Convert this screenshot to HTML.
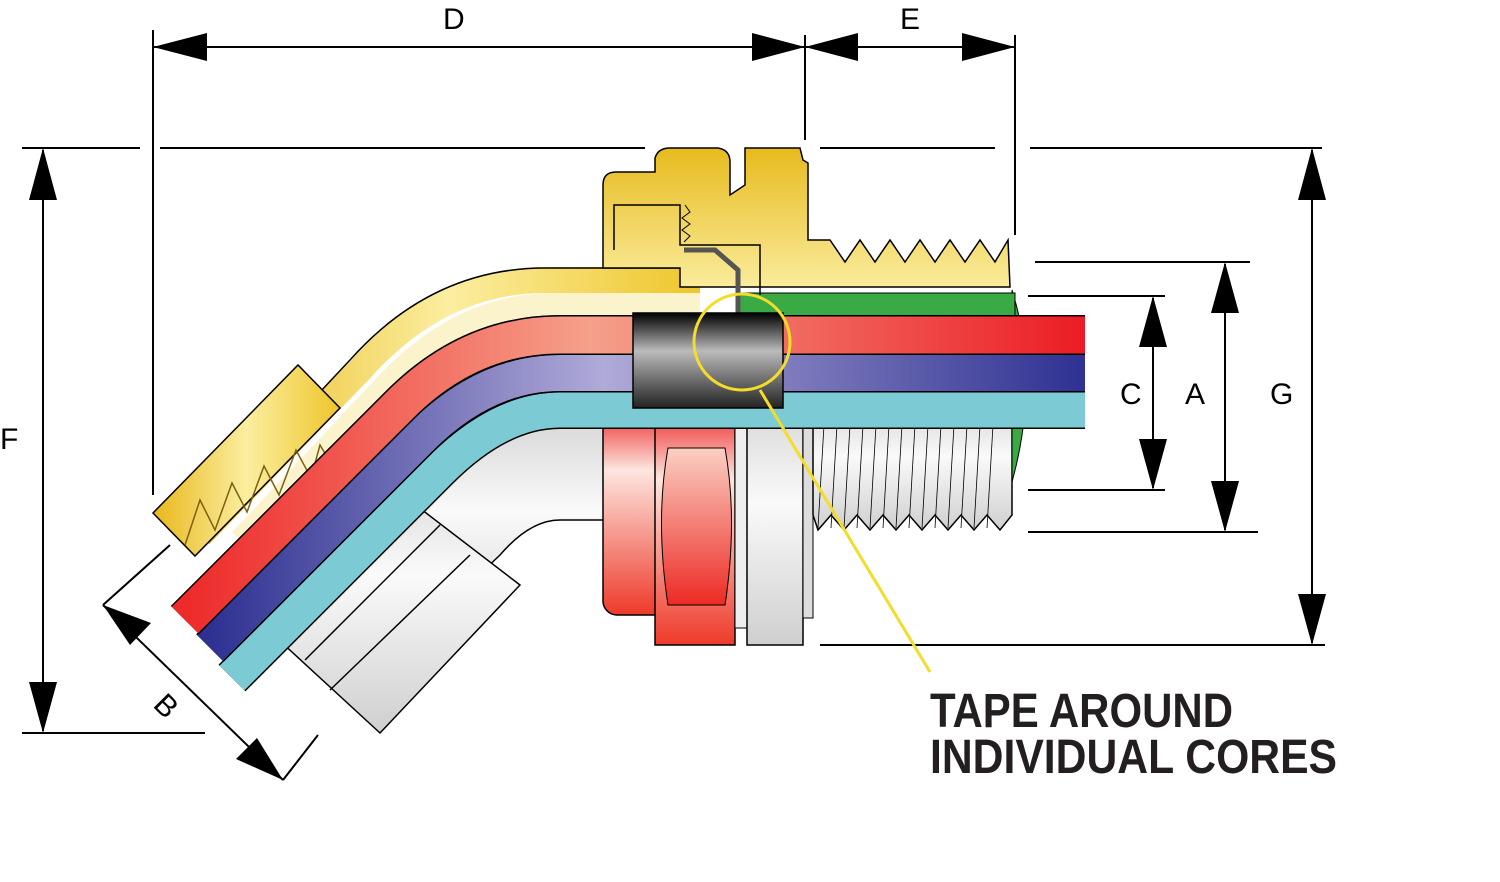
<!DOCTYPE html>
<html><head><meta charset="utf-8"><style>
html,body{margin:0;padding:0;background:#fff;width:1500px;height:882px;overflow:hidden}
svg{display:block}
</style></head><body>
<svg width="1500" height="882" viewBox="0 0 1500 882" xmlns="http://www.w3.org/2000/svg">
<defs>
<linearGradient id="gold" x1="0" y1="0" x2="1" y2="0">
<stop offset="0" stop-color="#e9b81c"/><stop offset="0.5" stop-color="#fbeea0"/><stop offset="1" stop-color="#eec52a"/></linearGradient>
<linearGradient id="goldv" x1="0" y1="0" x2="0" y2="1">
<stop offset="0" stop-color="#e6bb1e"/><stop offset="1" stop-color="#fbec9c"/></linearGradient>
<linearGradient id="red" x1="0" y1="0" x2="1" y2="0">
<stop offset="0" stop-color="#ee2a2a"/><stop offset="0.45" stop-color="#f5a08a"/><stop offset="1" stop-color="#ec1c24"/></linearGradient>
<linearGradient id="blue" x1="0" y1="0" x2="1" y2="0">
<stop offset="0" stop-color="#2e3192"/><stop offset="0.45" stop-color="#b0aad8"/><stop offset="1" stop-color="#2e3192"/></linearGradient>
<linearGradient id="tape" x1="0" y1="0" x2="0" y2="1">
<stop offset="0" stop-color="#000"/><stop offset="0.4" stop-color="#bbb"/><stop offset="1" stop-color="#222"/></linearGradient>
<linearGradient id="white" x1="0" y1="0" x2="0" y2="1">
<stop offset="0" stop-color="#d8d8d8"/><stop offset="0.4" stop-color="#fafafa"/><stop offset="1" stop-color="#cfcfcf"/></linearGradient>
<linearGradient id="redn" x1="0" y1="0" x2="0" y2="1">
<stop offset="0" stop-color="#ec2626"/><stop offset="0.3" stop-color="#fde6e0"/><stop offset="1" stop-color="#ee3a2a"/></linearGradient>
<linearGradient id="redh" x1="0" y1="0" x2="0" y2="1">
<stop offset="0" stop-color="#fbd0c4"/><stop offset="1" stop-color="#ec2a24"/></linearGradient>
</defs>

<g stroke="#000" stroke-width="2" fill="none">
<line x1="153" y1="30" x2="153" y2="495"/>
<line x1="805" y1="35" x2="805" y2="140"/>
<line x1="1015" y1="35" x2="1015" y2="235"/>
<line x1="153" y1="47" x2="1015" y2="47"/>
<line x1="22" y1="148" x2="140" y2="148"/>
<line x1="160" y1="148" x2="645" y2="148"/>
<line x1="820" y1="148" x2="995" y2="148"/>
<line x1="1030" y1="148" x2="1322" y2="148"/>
<line x1="22" y1="733" x2="205" y2="733"/>
<line x1="43" y1="150" x2="43" y2="731"/>
<line x1="1312" y1="150" x2="1312" y2="643"/>
<line x1="820" y1="645" x2="1325" y2="645"/>
<line x1="1035" y1="262" x2="1250" y2="262"/>
<line x1="1028" y1="532" x2="1258" y2="532"/>
<line x1="1225" y1="264" x2="1225" y2="530"/>
<line x1="1028" y1="296" x2="1165" y2="296"/>
<line x1="1028" y1="490" x2="1165" y2="490"/>
<line x1="1153" y1="298" x2="1153" y2="488"/>
<line x1="103" y1="605" x2="283" y2="780"/>
<line x1="103" y1="605" x2="170" y2="545"/>
<line x1="283" y1="780" x2="318" y2="735"/>
</g>
<g fill="#000">
<polygon points="153,47 207,33 207,61"/>
<polygon points="805,47 752,33 752,61"/>
<polygon points="805,47 858,33 858,61"/>
<polygon points="1015,47 962,33 962,61"/>
<polygon points="43,148 29,200 57,200"/>
<polygon points="43,733 29,682 57,682"/>
<polygon points="1312,148 1298,200 1326,200"/>
<polygon points="1312,645 1298,594 1326,594"/>
<polygon points="1225,262 1211,313 1239,313"/>
<polygon points="1225,532 1211,481 1239,481"/>
<polygon points="1153,296 1139,347 1167,347"/>
<polygon points="1153,490 1139,439 1167,439"/>
<polygon points="103,605 151,623 130,645"/>
<polygon points="283,780 236,759 257,738"/>
</g>
<g font-family="Liberation Sans, sans-serif" font-size="30" fill="#000">
<text x="443" y="29">D</text>
<text x="900" y="29">E</text>
<text x="0" y="449">F</text>
<text x="1120" y="404">C</text>
<text x="1185" y="404">A</text>
<text x="1270" y="404">G</text>
<text x="0" y="0" transform="translate(152,706) rotate(45)">B</text>
</g>

<path d="M560,420 L610,420 L610,520 L560,520 Q530,520 500,555 L400,650 L300,560 L440,440 Q480,420 560,420 Z" fill="url(#white)" stroke="#000" stroke-width="1.5"/>
<g stroke="#000" stroke-width="1.5" fill="url(#white)">
<polygon points="230,595 370,470 520,585 380,733"/>
<line x1="305" y1="660" x2="440" y2="525"/>
<line x1="330" y1="690" x2="470" y2="555"/>
</g>
<rect x="603" y="408" width="90" height="207" rx="14" fill="url(#redn)" stroke="#000" stroke-width="1.5"/>
<path d="M655,408 L735,408 L735,645 L655,645 Z" fill="url(#redn)" stroke="#000" stroke-width="1.5"/>
<path d="M668,448 L725,448 Q738,520 725,605 L668,605 Q655,520 668,448 Z" fill="url(#redh)" stroke="#000" stroke-width="1"/>
<rect x="735" y="408" width="12" height="220" fill="#eee" stroke="#000" stroke-width="1"/>
<rect x="747" y="408" width="56" height="237" fill="url(#white)" stroke="#000" stroke-width="1.5"/>
<rect x="803" y="408" width="10" height="210" fill="#ddd" stroke="#000" stroke-width="1"/>
<path d="M813,408 L1012,408 L1012,515 L1000,530 L987,515 L974,530 L961,515 L948,530 L935,515 L922,530 L909,515 L896,530 L883,515 L870,530 L857,515 L844,530 L831,515 L818,530 L813,515 Z" fill="url(#white)" stroke="#000" stroke-width="1.5"/>
<g stroke="#000" stroke-width="0.8">
<line x1="825" y1="408" x2="818" y2="528"/><line x1="838" y1="408" x2="831" y2="528"/><line x1="851" y1="408" x2="844" y2="528"/><line x1="864" y1="408" x2="857" y2="528"/><line x1="877" y1="408" x2="870" y2="528"/><line x1="890" y1="408" x2="883" y2="528"/><line x1="903" y1="408" x2="896" y2="528"/><line x1="916" y1="408" x2="909" y2="528"/><line x1="929" y1="408" x2="922" y2="528"/><line x1="942" y1="408" x2="935" y2="528"/><line x1="955" y1="408" x2="948" y2="528"/><line x1="968" y1="408" x2="961" y2="528"/><line x1="981" y1="408" x2="974" y2="528"/><line x1="994" y1="408" x2="987" y2="528"/>
</g>
<path d="M1012,290 Q1040,380 1012,482 L1012,290 Z" fill="#3aaa44" stroke="#000" stroke-width="1"/>
<rect x="740" y="293" width="275" height="24" fill="#3aaa44" stroke="#000" stroke-width="1"/>

<path d="M700,280 L545,280 Q440,280 360,370 L200,535" fill="none" stroke="url(#gold)" stroke-width="26"/>
<path d="M700,304 L555,304 Q460,304 385,385 L240,540" fill="none" stroke="#fbf3cc" stroke-width="22"/>
<path d="M700,268 L545,268 Q432,268 350,360 L320,392 M700,316 L555,316 Q470,316 395,395" fill="none" stroke="#000" stroke-width="1.5"/>
<polygon points="153,513 298,365 340,408 195,556" fill="url(#gold)" stroke="#000" stroke-width="1.5"/>
<path d="M185,545 L200,500 L215,530 L232,483 L247,512 L264,466 L279,495 L296,450 L311,478 L320,445 L335,470" fill="none" stroke="#7a6010" stroke-width="1.5"/>

<g fill="none" stroke-linejoin="round">
<path d="M1085,410 L560,410 Q500,410 440,470 L232,678" stroke="#000" stroke-width="38"/>
<path d="M1085,410 L560,410 Q500,410 440,470 L232,678" stroke="#7ccbd4" stroke-width="35"/>
<path d="M1085,373 L560,373 Q485,373 420,438 L210,648" stroke="#000" stroke-width="39"/>
<path d="M1085,373 L560,373 Q485,373 420,438 L210,648" stroke="url(#blue)" stroke-width="36"/>
<path d="M1085,335 L560,335 Q470,335 400,405 L185,620" stroke="#000" stroke-width="40"/>
<path d="M1085,335 L560,335 Q470,335 400,405 L185,620" stroke="url(#red)" stroke-width="37"/>
</g>

<path d="M603,268 L603,185 Q603,172 616,172 L655,172 L655,158 Q658,148 670,148 L718,148 Q730,150 730,162 L730,195 L745,185 L745,148 L800,148 L803,160 L808,163 L808,240 L830,240 L845,262 L860,240 L875,262 L890,240 L905,262 L920,240 L935,262 L950,240 L965,262 L980,240 L995,262 L1008,240 L1010,287 L680,287 L680,268 Z" fill="url(#goldv)" stroke="#000" stroke-width="1.5"/>
<path d="M614,250 L614,205 L680,205 L680,245 L760,245 L760,295" fill="none" stroke="#000" stroke-width="1.5"/>
<path d="M684,250 L715,250 L738,270 L738,315" fill="none" stroke="#555" stroke-width="5"/>
<path d="M685,205 L690,212 L682,218 L690,224 L682,230 L690,236 L684,242" fill="none" stroke="#000" stroke-width="1"/>

<rect x="633" y="313" width="150" height="95" fill="url(#tape)" stroke="#000" stroke-width="1.5"/>
<circle cx="742" cy="342" r="48" fill="none" stroke="#f4dc2a" stroke-width="3"/>
<line x1="760" y1="390" x2="930" y2="672" stroke="#f4dc2a" stroke-width="3"/>

<g font-family="Liberation Sans Narrow, Liberation Sans, sans-serif" font-size="48" font-weight="bold" fill="#231f20">
<text x="930" y="727" textLength="303" lengthAdjust="spacingAndGlyphs">TAPE AROUND</text>
<text x="930" y="773" textLength="407" lengthAdjust="spacingAndGlyphs">INDIVIDUAL CORES</text>
</g>
</svg>
</body></html>
